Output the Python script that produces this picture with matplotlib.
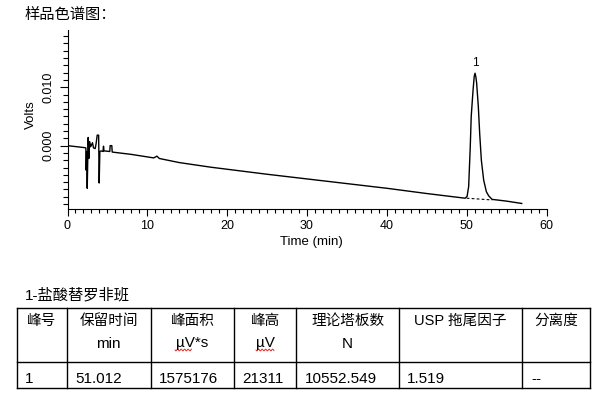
import numpy as np
import matplotlib
matplotlib.use('Agg')
import matplotlib.pyplot as plt
from matplotlib.ticker import MultipleLocator, FormatStrFormatter

plt.rcParams['font.family'] = ['Liberation Sans', 'Noto Sans CJK SC']

chart_title = '样品色谱图：'

# chromatogram trace
time_min = [0.0, 2.2, 2.3, 2.34, 2.40, 2.47, 2.59, 2.67, 2.76, 2.88, 3.0, 3.13,
            3.26, 3.47, 3.59, 3.72, 3.90, 3.97, 4.05, 4.2, 4.45, 4.51, 4.57,
            5.3, 5.34, 5.55, 5.6, 8.0, 10.8, 11.2, 11.5, 14.0, 18.0, 25.0,
            30.0, 35.0, 40.0, 45.0, 49.8, 50.05, 50.25, 50.45, 50.57, 50.8,
            50.95, 51.05, 51.15, 51.25, 51.46, 51.63, 51.84, 52.13, 52.47,
            52.76, 53.18, 55.0, 56.9]
signal_volts = [0.0, -0.00035, -0.0004, -0.0042, -0.0010, -0.0073, 0.0014,
                -0.0022, 0.0007, -0.0002, 0.0001, 0.0005, -0.0004, -0.0005,
                0.0004, 0.0018, 0.0018, -0.0064, -0.0010, -0.0009, -0.0010,
                -0.0001, -0.0009, -0.0010, 0.0000, 0.0000, -0.0011, -0.0015,
                -0.0021, -0.0018, -0.0022, -0.0029, -0.0037, -0.0049, -0.0057,
                -0.0065, -0.0073, -0.0082, -0.0090, -0.0087, -0.0070, -0.0002,
                0.0050, 0.0095, 0.0119, 0.0124, 0.0118, 0.0107, 0.0067, 0.0021,
                -0.0025, -0.0059, -0.0079, -0.0086, -0.0092, -0.0095, -0.0099]

baseline_time = [50.0, 53.2]
baseline_volts = [-0.0090, -0.0093]

peak_labels = ['1']
peak_times = [51.05]
peak_volts = [0.0124]

y_major = [0.0, 0.010]

table_title = '1-盐酸替罗非班'
header_names = ['峰号', '保留时间', '峰面积', '峰高', '理论塔板数', 'USP 拖尾因子', '分离度']
header_units = ['', 'min', 'µV*s', 'µV', 'N', '', '']
row_values = ['1', '51.012', '1575176', '21311', '10552.549', '1.519', '--']


W, H = 604, 399
fig = plt.figure(figsize=(W / 100, H / 100), dpi=100)

ax = fig.add_axes([67.5 / W, 1 - 209.3 / H, 479 / W, 179.3 / H])
ax.plot(time_min, signal_volts, color='black', lw=1.0)
ax.plot(baseline_time, baseline_volts, color='black', lw=0.8, ls=(0, (2.5, 2)))
for lab, t, v in zip(peak_labels, peak_times, peak_volts):
    ax.annotate(lab, (t, v), xytext=(0, 3), textcoords='offset points',
                ha='center', va='bottom', fontsize=8.5)

ax.set_xlim(0, 60)
ax.set_ylim(-0.0109, 0.0198)
ax.xaxis.set_major_locator(MultipleLocator(10))
ax.xaxis.set_minor_locator(MultipleLocator(1))
ax.set_yticks(y_major)
ax.yaxis.set_major_formatter(FormatStrFormatter('%.3f'))
ax.yaxis.set_minor_locator(MultipleLocator(0.00125))

for side in ['top', 'right']:
    ax.spines[side].set_visible(False)
for side in ['left', 'bottom']:
    ax.spines[side].set_linewidth(0.8)

ax.tick_params(axis='x', which='major', length=5, width=0.8, labelsize=9, pad=3)
ax.tick_params(axis='x', which='minor', length=3, width=0.8)
ax.tick_params(axis='y', which='major', length=6, width=0.8, labelsize=9, pad=3)
ax.tick_params(axis='y', which='minor', length=3.6, width=0.8)
plt.setp(ax.get_yticklabels(), rotation=90, va='center')

ax.set_xlabel('Time (min)', fontsize=9.5)
ax.xaxis.set_label_coords(0.51, -0.15)
ax.set_ylabel('Volts', fontsize=9.5)
ax.yaxis.set_label_coords(-0.064, 0.53)

# overlay in pixel coordinates for title and result table
ov = fig.add_axes([0, 0, 1, 1])
ov.set_xlim(0, W)
ov.set_ylim(H, 0)
ov.axis('off')
ov.patch.set_visible(False)

ov.text(25, 19.5, chart_title, fontsize=11, va='baseline', ha='left')
ov.text(25, 299, table_title, fontsize=11, va='baseline', ha='left')

cols = [16.6, 66.8, 150.7, 234.2, 296.4, 398.8, 522.4, 590.0]
rows = [307.7, 361.7, 388.3]
for y in rows:
    ov.plot([cols[0], cols[-1]], [y, y], color='black', lw=1.0)
for x in cols:
    ov.plot([x, x], [rows[0], rows[-1]], color='black', lw=1.0)

for i in range(len(header_names)):
    cx = (cols[i] + cols[i + 1]) / 2
    ov.text(cx, 324.5, header_names[i], fontsize=10.5, ha='center', va='baseline')
    if header_units[i]:
        ov.text(cx, 347.5, header_units[i], fontsize=11, ha='center', va='baseline')
    ov.text(cols[i] + 8.5, 383.3, row_values[i], fontsize=11, ha='left', va='baseline')


def squiggle(x0, x1, y):
    xs = np.linspace(x0, x1, 60)
    ys = y + 0.9 * np.sin((xs - x0) * 2 * np.pi / 3.5)
    ov.plot(xs, ys, color='#e01010', lw=0.6)


squiggle(175, 191.5, 350)
squiggle(256, 274, 350)

fig.savefig('out.png', dpi=100)
